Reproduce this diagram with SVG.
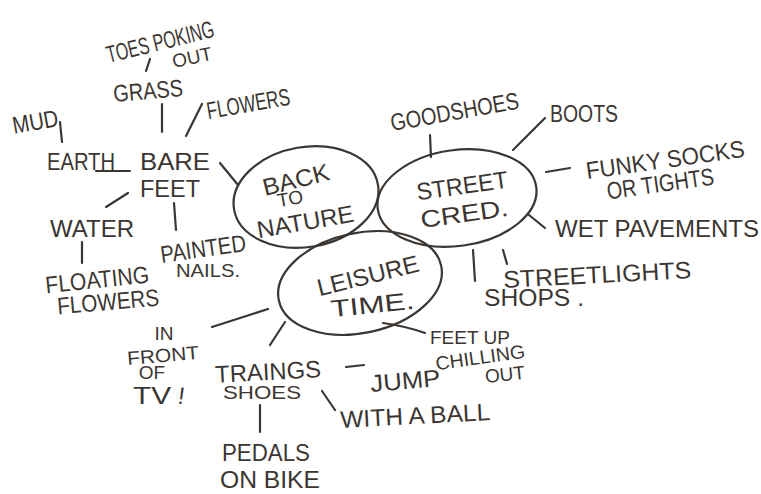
<svg xmlns="http://www.w3.org/2000/svg" width="761" height="494" viewBox="0 0 761 494">
<style>
.t{font-family:"Liberation Sans Narrow","Liberation Sans",Arial,sans-serif;fill:#3b3632;text-anchor:middle;font-size:24px}
.s{font-size:19px}
.ln,.el{fill:none;stroke:#3b3632;stroke-width:2.2;stroke-linecap:round}
</style>
<rect width="761" height="494" fill="#ffffff"/>
<g id="connectors" class="ln">
<path d="M60 122 L62 142"/>
<path d="M150 59 L146 71"/>
<path d="M162 104 L162 132"/>
<path d="M202 104 L186 136"/>
<path d="M96 171 L130 171"/>
<path d="M220 163 L238 185"/>
<path d="M128 193 L106 207"/>
<path d="M82 242 L82 263"/>
<path d="M174 203 L176 230"/>
<path d="M430 135 L431 157"/>
<path d="M545 118 L513 150"/>
<path d="M546 172 L570 168"/>
<path d="M529 215 L545 228"/>
<path d="M503 250 L507 264"/>
<path d="M473 250 L475 281"/>
<path d="M212 327 L268 309"/>
<path d="M270 345 L285 322"/>
<path d="M346 367 L364 365"/>
<path d="M322 391 L335 410"/>
<path d="M260 405 L260 432"/>
<path d="M383 323 Q405 326 425 333"/>
</g>
<g id="back-to-nature">
<ellipse class="el" cx="306" cy="197" rx="73" ry="50" transform="rotate(-10 306 197)"/>
<text class="t" x="296" y="188" textLength="68" lengthAdjust="spacingAndGlyphs" transform="rotate(-14 296 180)">BACK</text>
<text class="t s" x="290" y="205" transform="rotate(-10 290 198)">TO</text>
<text class="t" x="305" y="230" textLength="98" lengthAdjust="spacingAndGlyphs" transform="rotate(-10 305 220)">NATURE</text>
</g>
<g id="street-cred">
<ellipse class="el" cx="457" cy="198" rx="80" ry="48" transform="rotate(-8 457 198)"/>
<text class="t" x="462" y="194" textLength="92" lengthAdjust="spacingAndGlyphs" transform="rotate(-8 462 185)">STREET</text>
<text class="t" x="464" y="222" textLength="88" lengthAdjust="spacingAndGlyphs" transform="rotate(-8 464 212)">CRED.</text>
</g>
<g id="leisure-time">
<ellipse class="el" cx="360" cy="283" rx="83" ry="50" transform="rotate(-12 360 283)"/>
<text class="t" x="367" y="284" textLength="104" lengthAdjust="spacingAndGlyphs" transform="rotate(-14 367 272)">LEISURE</text>
<text class="t" x="372" y="313" textLength="84" lengthAdjust="spacingAndGlyphs" transform="rotate(-6 372 302)">TIME.</text>
</g>
<g id="mud"><text class="t" x="35" y="130" textLength="46" lengthAdjust="spacingAndGlyphs" transform="rotate(-10 35 120)">MUD</text></g>
<g id="toes-poking-out">
<text class="t" x="160" y="50" textLength="110" lengthAdjust="spacingAndGlyphs" transform="rotate(-14 160 41)">TOES POKING</text>
<text class="t s" x="192" y="64" transform="rotate(-12 192 57)">OUT</text>
</g>
<g id="grass"><text class="t" x="148" y="99" textLength="70" lengthAdjust="spacingAndGlyphs" transform="rotate(-5 148 90)">GRASS</text></g>
<g id="flowers-top"><text class="t" x="248" y="112" textLength="84" lengthAdjust="spacingAndGlyphs" transform="rotate(-10 248 102)">FLOWERS</text></g>
<g id="earth"><text class="t" x="81" y="170" textLength="68" lengthAdjust="spacingAndGlyphs">EARTH</text></g>
<g id="bare-feet">
<text class="t" x="175" y="170" textLength="70" lengthAdjust="spacingAndGlyphs">BARE</text>
<text class="t" x="170" y="197" textLength="60" lengthAdjust="spacingAndGlyphs">FEET</text>
</g>
<g id="water"><text class="t" x="92" y="237" textLength="84" lengthAdjust="spacingAndGlyphs">WATER</text></g>
<g id="floating-flowers">
<text class="t" x="97" y="288" textLength="104" lengthAdjust="spacingAndGlyphs" transform="rotate(-6 97 278)">FLOATING</text>
<text class="t" x="108" y="310" textLength="102" lengthAdjust="spacingAndGlyphs" transform="rotate(-5 108 300)">FLOWERS</text>
</g>
<g id="painted-nails">
<text class="t" x="203" y="257" textLength="86" lengthAdjust="spacingAndGlyphs" transform="rotate(-8 203 248)">PAINTED</text>
<text class="t s" x="208" y="277" textLength="64" lengthAdjust="spacingAndGlyphs">NAILS.</text>
</g>
<g id="good-shoes"><text class="t" x="454" y="120" textLength="130" lengthAdjust="spacingAndGlyphs" transform="rotate(-10 454 108)">GOODSHOES</text></g>
<g id="boots"><text class="t" x="584" y="122" textLength="68" lengthAdjust="spacingAndGlyphs">BOOTS</text></g>
<g id="funky-socks">
<text class="t" x="665" y="168" textLength="160" lengthAdjust="spacingAndGlyphs" transform="rotate(-8 665 158)">FUNKY SOCKS</text>
<text class="t" x="660" y="192" textLength="108" lengthAdjust="spacingAndGlyphs" transform="rotate(-8 660 182)">OR TIGHTS</text>
</g>
<g id="wet-pavements"><text class="t" x="657" y="237" font-size="20">WET PAVEMENTS</text></g>
<g id="streetlights"><text class="t" x="597" y="283" textLength="188" lengthAdjust="spacingAndGlyphs" transform="rotate(-3 597 272)">STREETLIGHTS</text></g>
<g id="shops"><text class="t" x="534" y="306" textLength="100" lengthAdjust="spacingAndGlyphs">SHOPS .</text></g>
<g id="in-front-of-tv">
<text class="t s" x="164" y="340" font-size="16">IN</text>
<text class="t s" x="163" y="362" textLength="72" lengthAdjust="spacingAndGlyphs" transform="rotate(-5 163 355)">FRONT</text>
<text class="t s" x="152" y="379" font-size="15">OF</text>
<text class="t" x="152" y="404" font-size="20" textLength="38" lengthAdjust="spacingAndGlyphs">TV</text>
<text class="t" x="182" y="404" transform="rotate(8 182 392)">!</text>
</g>
<g id="training-shoes">
<text class="t" x="268" y="380" textLength="106" lengthAdjust="spacingAndGlyphs" transform="rotate(-3 268 370)">TRAINGS</text>
<text class="t s" x="262" y="399" textLength="78" lengthAdjust="spacingAndGlyphs">SHOES</text>
</g>
<g id="jump"><text class="t" x="405" y="389" textLength="70" lengthAdjust="spacingAndGlyphs" transform="rotate(-5 405 378)">JUMP</text></g>
<g id="with-a-ball"><text class="t" x="415" y="424" textLength="150" lengthAdjust="spacingAndGlyphs" transform="rotate(-3 415 412)">WITH A BALL</text></g>
<g id="pedals-on-bike">
<text class="t" x="266" y="461" font-size="22" textLength="88" lengthAdjust="spacingAndGlyphs">PEDALS</text>
<text class="t" x="270" y="488" font-size="22" textLength="100" lengthAdjust="spacingAndGlyphs">ON BIKE</text>
</g>
<g id="feet-up-chilling-out">
<text class="t s" x="470" y="344" textLength="80" lengthAdjust="spacingAndGlyphs">FEET UP</text>
<text class="t s" x="480" y="364" textLength="90" lengthAdjust="spacingAndGlyphs" transform="rotate(-8 480 356)">CHILLING</text>
<text class="t s" x="505" y="381" font-size="16" transform="rotate(-6 505 375)">OUT</text>
</g>
</svg>
